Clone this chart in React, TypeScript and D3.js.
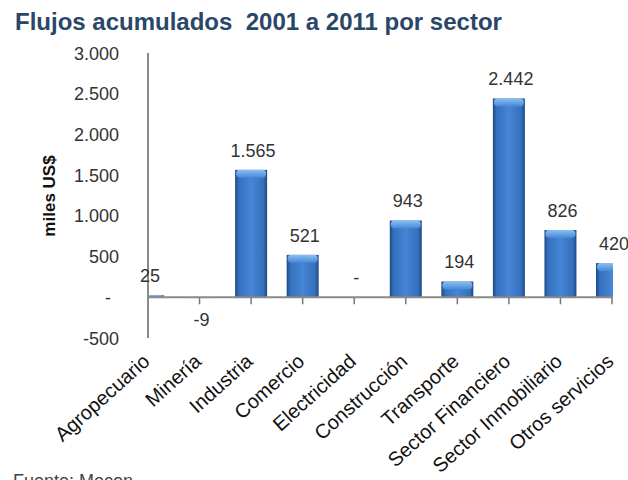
import React from "react";
import * as d3 from "d3";

const categories = [
  "Agropecuario",
  "Minería",
  "Industria",
  "Comercio",
  "Electricidad",
  "Construcción",
  "Transporte",
  "Sector Financiero",
  "Sector Inmobiliario",
  "Otros servicios",
];
const values = [25, -9, 1565, 521, 0, 943, 194, 2442, 826, 420];
const yTicks = [-500, 0, 500, 1000, 1500, 2000, 2500, 3000];

const title = "Flujos acumulados  2001 a 2011 por sector";
const yTitle = "miles US$";
const source = "Fuente: Mecon";

// formato contable: punto de miles, guion para el cero
const fmt = (v: number) =>
  v === 0 ? "-" : d3.format(",")(v).replace(/,/g, ".").replace("\u2212", "-");

export default function App() {
  const width = 628;
  const height = 480;
  const left = 148;
  const right = 612;
  const top = 53;
  const bottom = 338;
  const barW = 32;

  const x = d3.scalePoint<string>().domain(categories).range([left, right]).padding(0);
  const y = d3.scaleLinear().domain([-500, 3000]).range([bottom, top]);
  const y0 = y(0);

  const font = "'Liberation Sans', Arial, sans-serif";

  return (
    <div style={{ position: "absolute", left: 0, top: 0 }}>
      <svg width={width} height={height} style={{ display: "block", background: "#fff" }}>
        <defs>
          <linearGradient id="barGrad" x1="0" x2="1" y1="0" y2="0">
            <stop offset="0" stopColor="#1f4a85" />
            <stop offset="0.12" stopColor="#3570bd" />
            <stop offset="0.5" stopColor="#4586d6" />
            <stop offset="0.88" stopColor="#3570bd" />
            <stop offset="1" stopColor="#1f4a85" />
          </linearGradient>
          <linearGradient id="capGrad" x1="0" x2="0" y1="0" y2="1">
            <stop offset="0" stopColor="#8cc0f2" />
            <stop offset="1" stopColor="#4586d6" />
          </linearGradient>
          <clipPath id="plotClip">
            <rect x={left} y={0} width={right - left + 1} height={height} />
          </clipPath>
        </defs>

        <text
          x={15}
          y={30}
          fontFamily={font}
          fontWeight="bold"
          fontSize={24}
          fill="#2a4668"
          style={{ whiteSpace: "pre" }}
        >
          {title}
        </text>

        <text
          transform={`translate(55,196) rotate(-90)`}
          textAnchor="middle"
          fontFamily={font}
          fontWeight="bold"
          fontSize={17}
          fill="#111"
        >
          {yTitle}
        </text>

        {yTicks.map((t) => (
          <text
            key={t}
            x={t === 0 ? 111 : 119}
            y={y(t) + 6.5}
            textAnchor="end"
            fontFamily={font}
            fontSize={18}
            fill="#333"
          >
            {fmt(t)}
          </text>
        ))}

        <g clipPath="url(#plotClip)">
          {categories.map((c, i) => {
            const v = values[i];
            const cx = x(c) as number;
            const yTop = Math.min(y(v), y0);
            const h = Math.abs(y(v) - y0);
            if (h < 0.5) return null;
            const cap = Math.min(8, h);
            return (
              <g key={c}>
                <rect x={cx - barW / 2} y={yTop} width={barW} height={h} fill="url(#barGrad)" />
                {v > 0 && (
                  <rect
                    x={cx - barW / 2 + 1}
                    y={yTop}
                    width={barW - 2}
                    height={cap}
                    rx={4}
                    fill="url(#capGrad)"
                  />
                )}
              </g>
            );
          })}
          {categories.map((c) => (
            <line
              key={c}
              x1={x(c) as number}
              x2={x(c) as number}
              y1={y0}
              y2={y0 + 7}
              stroke="#777"
              strokeWidth={1.5}
            />
          ))}
        </g>

        <line x1={left} x2={right + 1} y1={y0} y2={y0} stroke="#8a8a8a" strokeWidth={2} />
        <line x1={left} x2={left} y1={top} y2={bottom} stroke="#8a8a8a" strokeWidth={2} />

        {categories.map((c, i) => {
          const v = values[i];
          const cx = x(c) as number;
          const ly = v < 0 ? y(v) + 28 : y(v) - 13;
          return (
            <text
              key={c}
              x={cx + 2}
              y={ly}
              textAnchor="middle"
              fontFamily={font}
              fontSize={18}
              fill="#333"
            >
              {fmt(v)}
            </text>
          );
        })}

        {categories.map((c) => (
          <text
            key={c}
            transform={`translate(${(x(c) as number) + 3},363) rotate(-42)`}
            textAnchor="end"
            fontFamily={font}
            fontSize={20}
            fill="#111"
          >
            {c}
          </text>
        ))}

        <text x={13} y={487} fontFamily={font} fontSize={18} fill="#444">
          {source}
        </text>
      </svg>
    </div>
  );
}
